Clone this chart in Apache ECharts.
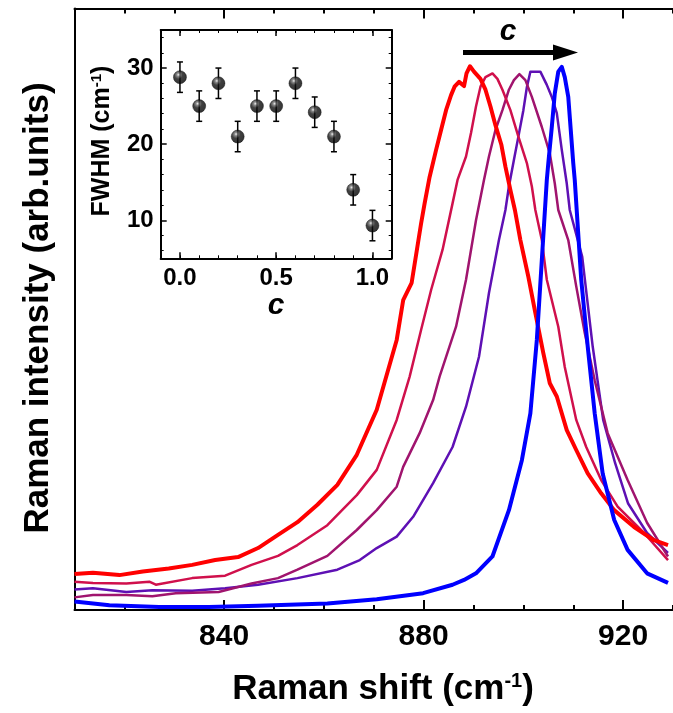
<!DOCTYPE html>
<html><head><meta charset="utf-8">
<script src="https://cdn.jsdelivr.net/npm/echarts@6/dist/echarts.min.js"></script>
<style>html,body{margin:0;padding:0;background:#fff}#c{width:673px;height:713px}</style>
</head><body><div id="c"></div>
<script>
// ---- main chart data (Raman shift cm^-1, intensity arb. units) ----
const mainXTicks = [840, 880, 920];
const spec1 = [[810.0,6.0],[813.7,6.2],[819.0,5.8],[823.7,6.4],[828.9,6.9],[833.6,7.5],[838.2,8.3],[842.8,8.8],[846.8,10.3],[850.8,12.5],[854.7,14.6],[858.7,17.5],[862.7,20.8],[866.6,25.8],[870.6,33.3],[874.6,44.9],[875.9,51.5],[877.6,54.4],[879.5,64.3],[880.2,67.6],[881.2,72.0],[882.5,76.5],[883.5,79.8],[884.5,83.1],[885.5,85.6],[886.2,87.0],[887.1,87.8],[888.1,87.1],[888.6,89.2],[889.3,90.4],[890.1,89.5],[891.4,88.3],[892.4,86.5],[893.4,83.7],[894.4,80.6],[895.6,77.3],[896.4,73.7],[897.4,69.8],[898.3,66.5],[899.4,61.5],[901.0,55.4],[902.4,49.4],[904.0,42.7],[905.3,37.7],[906.7,35.5],[908.7,29.9],[910.6,26.6],[912.9,22.7],[915.6,19.4],[918.2,16.6],[922.2,13.8],[926.2,11.6],[929.0,10.8]];
const spec2 = [[810.0,4.7],[813.7,4.5],[820.4,4.4],[825.0,4.7],[826.3,4.2],[833.6,5.3],[840.2,5.7],[845.5,7.5],[850.8,9.0],[854.7,10.8],[860.7,14.1],[866.6,19.1],[870.6,23.3],[874.6,31.6],[877.2,38.8],[879.5,46.6],[881.5,53.2],[883.8,59.9],[885.8,67.6],[886.8,71.5],[888.5,75.4],[889.5,79.3],[890.5,83.7],[891.4,87.0],[892.4,88.6],[893.8,89.2],[894.8,88.3],[895.8,86.5],[897.4,83.1],[899.0,78.7],[900.7,74.3],[901.7,70.4],[902.4,66.5],[903.7,61.5],[904.7,54.9],[907.0,47.1],[908.3,40.4],[910.6,31.6],[912.6,27.1],[915.6,21.6],[918.9,17.2],[924.2,12.8],[929.0,8.3]];
const spec3 = [[810.0,2.1],[813.7,2.5],[820.4,2.5],[825.6,2.3],[830.3,2.8],[838.9,3.0],[845.5,4.4],[850.8,5.3],[854.7,6.7],[860.7,9.0],[866.6,13.3],[870.6,16.6],[874.6,20.5],[875.9,23.8],[879.2,29.4],[881.9,34.9],[883.2,38.8],[886.5,47.1],[888.5,54.9],[890.5,64.8],[892.1,71.5],[893.1,75.4],[894.4,79.8],[895.8,83.1],[897.1,86.5],[898.1,88.1],[899.2,89.1],[900.4,88.1],[901.7,85.3],[903.7,80.3],[905.3,75.9],[906.3,70.9],[907.0,66.5],[909.0,61.5],[910.6,53.8],[912.3,46.1],[914.3,38.2],[916.9,29.4],[920.9,21.6],[924.8,14.5],[929.0,8.9]];
const spec4 = [[810.0,3.4],[813.7,3.6],[820.4,3.0],[825.6,3.3],[833.6,3.2],[840.2,3.6],[846.8,4.2],[854.7,5.3],[862.7,6.7],[867.2,8.3],[870.6,10.3],[874.6,12.2],[877.9,15.5],[881.9,21.1],[885.8,27.1],[888.5,33.8],[891.1,42.1],[893.1,52.7],[895.1,61.5],[896.4,66.5],[897.1,70.4],[898.1,74.8],[899.0,78.7],[900.0,83.1],[900.7,86.9],[901.4,89.5],[903.4,89.5],[904.7,87.3],[905.7,85.3],[906.7,82.6],[907.7,76.5],[908.7,70.9],[909.3,66.5],[911.8,58.7],[913.9,43.8],[916.0,31.6],[918.4,24.4],[921.0,17.7],[924.8,12.8],[929.0,9.5]];
const spec5 = [[810.0,1.4],[817.0,0.8],[827.0,0.5],[836.9,0.5],[846.8,0.7],[860.7,1.1],[870.6,1.8],[879.9,2.8],[885.8,4.2],[888.1,5.0],[890.5,6.1],[893.8,8.9],[897.1,16.6],[899.7,24.9],[901.4,32.7],[902.7,44.9],[903.7,58.2],[904.7,71.5],[905.0,74.3],[905.7,80.3],[906.3,85.9],[907.0,89.5],[907.7,90.3],[908.3,88.6],[909.0,85.3],[909.5,79.8],[910.0,74.3],[910.3,71.5],[911.6,54.9],[912.9,43.8],[914.3,32.7],[915.9,22.7],[918.2,15.0],[920.9,10.0],[924.8,6.1],[929.0,4.5]];

// ---- inset data ----
const insetC = [0.0, 0.1, 0.2, 0.3, 0.4, 0.5, 0.6, 0.7, 0.8, 0.9, 1.0];
const insetFWHM = [28.8, 25.0, 28.0, 21.0, 25.0, 25.0, 28.0, 24.2, 21.0, 14.0, 9.3];
const insetErr = [2, 2, 2, 2, 2, 2, 2, 2, 2, 2, 2];
const insetXTicks = [0.0, 0.5, 1.0];
const insetYTicks = [10, 20, 30];
const insetYMinor = [6, 8, 12, 14, 16, 18, 22, 24, 26, 28, 32, 34];

const FF = '"Liberation Sans", Arial, sans-serif';
const chart = echarts.init(document.getElementById('c'), null, {renderer: 'canvas'});

function axisBase(extra) {
  return Object.assign({
    type: 'value',
    splitLine: {show: false},
    axisLine: {show: false, onZero: false, lineStyle: {color: '#000', width: 2}},
    axisTick: {show: false},
    axisLabel: {show: false}
  }, extra);
}
function tick(len, extra) {
  return Object.assign({show: true, inside: true, length: len, lineStyle: {color: '#000', width: 2}}, extra || {});
}

const xAxes = [
  axisBase({gridIndex: 0, min: 810, max: 930, interval: 10, position: 'bottom',
    axisLine: {show: true, onZero: false, lineStyle: {color: '#000', width: 2}}, axisTick: tick(5)}),
  axisBase({gridIndex: 0, min: 810, max: 930, position: 'bottom',
    axisTick: tick(10, {customValues: mainXTicks}),
    axisLabel: {show: true, customValues: mainXTicks, fontSize: 30, fontWeight: 'bold', fontFamily: FF, color: '#000', margin: 12}}),
  axisBase({gridIndex: 0, min: 810, max: 930, interval: 10, position: 'top',
    axisLine: {show: true, onZero: false, lineStyle: {color: '#000', width: 2}}, axisTick: tick(5)}),
  axisBase({gridIndex: 0, min: 810, max: 930, position: 'top', axisTick: tick(10, {customValues: mainXTicks})}),
  axisBase({gridIndex: 1, min: -0.1, max: 1.1, interval: 0.1, position: 'bottom',
    axisLine: {show: true, onZero: false, lineStyle: {color: '#000', width: 2}}, axisTick: tick(3, {lineStyle: {color: '#000', width: 1}})}),
  axisBase({gridIndex: 1, min: -0.1, max: 1.1, position: 'bottom',
    axisTick: tick(6, {customValues: insetXTicks, lineStyle: {color: '#000', width: 1.5}}),
    axisLabel: {show: true, customValues: insetXTicks, formatter: v => Number(v).toFixed(1), fontSize: 24, fontWeight: 'bold', fontFamily: FF, color: '#000', margin: 8}}),
  axisBase({gridIndex: 1, min: -0.1, max: 1.1, interval: 0.1, position: 'top',
    axisLine: {show: true, onZero: false, lineStyle: {color: '#000', width: 2}}, axisTick: tick(3, {lineStyle: {color: '#000', width: 1}})}),
  axisBase({gridIndex: 1, min: -0.1, max: 1.1, position: 'top',
    axisTick: tick(6, {customValues: insetXTicks, lineStyle: {color: '#000', width: 1.5}})})
];
const yAxes = [
  axisBase({gridIndex: 0, min: 0, max: 100, position: 'left',
    axisLine: {show: true, onZero: false, lineStyle: {color: '#000', width: 2}}}),
  axisBase({gridIndex: 1, min: 5, max: 35, position: 'left',
    axisLine: {show: true, onZero: false, lineStyle: {color: '#000', width: 2}},
    axisTick: tick(3, {customValues: insetYMinor, lineStyle: {color: '#000', width: 1}})}),
  axisBase({gridIndex: 1, min: 5, max: 35, position: 'left',
    axisTick: tick(6, {customValues: insetYTicks, lineStyle: {color: '#000', width: 1.5}}),
    axisLabel: {show: true, customValues: insetYTicks, fontSize: 24, fontWeight: 'bold', fontFamily: FF, color: '#000', margin: 7}}),
  axisBase({gridIndex: 1, min: 5, max: 35, position: 'right',
    axisLine: {show: true, onZero: false, lineStyle: {color: '#000', width: 2}},
    axisTick: tick(3, {customValues: insetYMinor, lineStyle: {color: '#000', width: 1}})}),
  axisBase({gridIndex: 1, min: 5, max: 35, position: 'right',
    axisTick: tick(6, {customValues: insetYTicks, lineStyle: {color: '#000', width: 1.5}})})
];

function lineSeries(name, data, color, width) {
  return {name, type: 'line', data, xAxisIndex: 0, yAxisIndex: 0, showSymbol: false, symbol: 'none',
    lineStyle: {color, width, join: 'round'}, itemStyle: {color}, z: 3};
}

const ballColor = new echarts.graphic.RadialGradient(0.38, 0.32, 0.7, [
  {offset: 0, color: '#e8e8e8'}, {offset: 0.18, color: '#6a6a6a'}, {offset: 0.45, color: '#111'}, {offset: 1, color: '#000'}
]);

const option = {
  animation: false,
  backgroundColor: '#fff',
  grid: [
    {left: 74.5, top: 8.5, width: 605, height: 601.5, containLabel: false},
    {left: 160.7, top: 30, width: 231, height: 228.3, show: true, backgroundColor: '#fff', borderWidth: 0, containLabel: false}
  ],
  xAxis: xAxes,
  yAxis: yAxes,
  series: [
    lineSeries('spectrum 4', spec4, '#5e10b4', 2.5),
    lineSeries('spectrum 3', spec3, '#a0146e', 2.5),
    lineSeries('spectrum 2', spec2, '#d0104c', 2.5),
    lineSeries('spectrum 1', spec1, '#ff0000', 4),
    lineSeries('spectrum 5', spec5, '#0000ff', 4),
    {
      name: 'FWHM error', type: 'custom', xAxisIndex: 4, yAxisIndex: 1, z: 5,
      data: insetC.map((c, i) => [c, insetFWHM[i], insetErr[i]]),
      renderItem: function (params, api) {
        const x = api.value(0), y = api.value(1), e = api.value(2);
        const t = api.coord([x, y + e]), b = api.coord([x, y - e]);
        const w = 3;
        const st = {stroke: '#000', lineWidth: 1.5};
        return {type: 'group', children: [
          {type: 'line', shape: {x1: t[0], y1: t[1], x2: b[0], y2: b[1]}, style: st},
          {type: 'line', shape: {x1: t[0] - w, y1: t[1], x2: t[0] + w, y2: t[1]}, style: st},
          {type: 'line', shape: {x1: b[0] - w, y1: b[1], x2: b[0] + w, y2: b[1]}, style: st}
        ]};
      }
    },
    {
      name: 'FWHM', type: 'scatter', xAxisIndex: 4, yAxisIndex: 1, z: 6,
      data: insetC.map((c, i) => [c, insetFWHM[i]]),
      symbol: 'circle', symbolSize: 13,
      itemStyle: {color: ballColor, borderColor: '#000', borderWidth: 0.5}
    }
  ],
  graphic: [
    {type: 'text', x: 38, y: 308, rotation: Math.PI / 2, z: 10,
      style: {text: 'Raman intensity (arb.units)', fontSize: 35, fontWeight: 'bold', fontFamily: FF, fill: '#000', align: 'center', verticalAlign: 'middle'}},
    {type: 'text', x: 383, y: 689, z: 10,
      style: {text: 'Raman shift (cm{s|-1})', fontSize: 35, fontWeight: 'bold', fontFamily: FF, fill: '#000', align: 'center', verticalAlign: 'middle',
        rich: {s: {fontSize: 20, fontWeight: 'bold', fontFamily: FF, fill: '#000', verticalAlign: 'top', padding: [0, 0, 8, 0]}}}},
    {type: 'text', x: 102, y: 141, rotation: Math.PI / 2, z: 10,
      style: {text: 'FWHM (cm{s|-1})', fontSize: 25, fontWeight: 'bold', fontFamily: FF, fill: '#000', align: 'center', verticalAlign: 'middle',
        rich: {s: {fontSize: 15, fontWeight: 'bold', fontFamily: FF, fill: '#000', verticalAlign: 'top', padding: [0, 0, 6, 0]}}}},
    {type: 'text', x: 276, y: 306, z: 10,
      style: {text: 'c', fontSize: 30, fontWeight: 'bold', fontStyle: 'italic', fontFamily: FF, fill: '#000', align: 'center', verticalAlign: 'middle'}},
    {type: 'text', x: 508, y: 32, z: 10,
      style: {text: 'c', fontSize: 30, fontWeight: 'bold', fontStyle: 'italic', fontFamily: FF, fill: '#000', align: 'center', verticalAlign: 'middle'}},
    {type: 'line', z: 10, shape: {x1: 463, y1: 52.5, x2: 556, y2: 52.5}, style: {stroke: '#000', lineWidth: 5}},
    {type: 'polygon', z: 10, shape: {points: [[553, 44.5], [578, 52.5], [553, 60.5]]}, style: {fill: '#000'}}
  ]
};
chart.setOption(option);
</script>
</body></html>
